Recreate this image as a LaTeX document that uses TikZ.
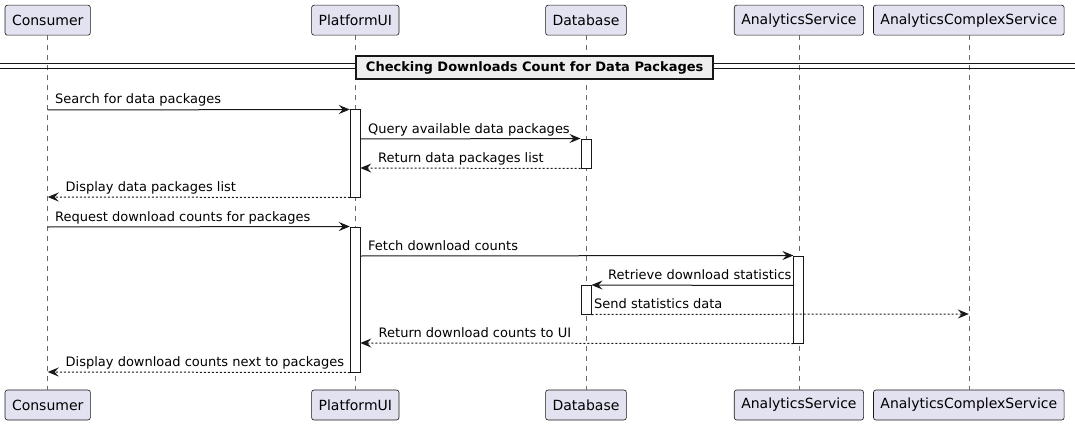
\documentclass[tikz,border=0pt]{standalone}
\usepackage{fontspec}
\setmainfont{DejaVu Sans}
\usetikzlibrary{arrows.meta}
\definecolor{partfill}{HTML}{E2E2F0}
\definecolor{ink}{HTML}{181818}
\definecolor{divfill}{HTML}{EEEEEE}
\tikzset{
  part/.style={draw=ink, line width=0.6pt, fill=partfill, rounded corners=2.5pt,
    minimum height=30pt, inner xsep=7pt, inner ysep=0pt,
    font=\fontsize{14}{16}\selectfont, text=black},
  life/.style={draw=ink!65, line width=0.6pt, dash pattern=on 5pt off 5pt},
  actbox/.style={draw=ink, line width=1pt, fill=white, minimum width=10pt, inner sep=0pt},
  msg/.style={draw=ink, line width=1pt, -{Stealth[length=11pt,width=9pt,inset=4pt]}},
  ret/.style={msg, dash pattern=on 2pt off 2pt},
  lbl/.style={anchor=base west, inner sep=0pt, font=\fontsize{13}{15}\selectfont, text=black},
  divbox/.style={draw=ink, line width=2pt, fill=divfill, minimum width=357pt, minimum height=23pt,
    inner sep=0pt, font=\fontsize{13}{15}\selectfont\bfseries}
}
\begin{document}
\begin{tikzpicture}[x=1pt,y=-1pt]
\useasboundingbox (0,0) rectangle (1075,425);
% participants
\node[part] (c1) at (47.7,20.2) {Consumer};
\node[part] (p1) at (355.3,20.2) {PlatformUI};
\node[part] (d1) at (586,20.2) {Database};
\node[part] (a1) at (798.9,20.2) {AnalyticsService};
\node[part] (x1) at (968.8,20.2) {AnalyticsComplexService};
\node[part] (c2) at (47.7,405) {Consumer};
\node[part] (p2) at (355.3,405) {PlatformUI};
\node[part] (d2) at (586,405) {Database};
\node[part] (a2) at (798.9,405) {AnalyticsService};
\node[part] (x2) at (968.8,405) {AnalyticsComplexService};
% lifelines
\foreach \n in {c,p,d,a,x} \draw[life] (\n1.south) -- (\n2.north);
% divider
\coordinate (dl) at (0,64);
\coordinate (dr) at (1075,64);
\coordinate (dl2) at (0,68.5);
\coordinate (dr2) at (1075,68.5);
\draw[ink, line width=1pt] (dl) -- (dr);
\draw[ink, line width=1pt] (dl2) -- (dr2);
\node[divbox] (div) at (534.7,67.9) {Checking Downloads Count for Data Packages};
% activations
\node[actbox, minimum height=87pt] (actP1) at (355.3,153.5) {};
\node[actbox, minimum height=29pt] (actD1) at (586,153.5) {};
\node[actbox, minimum height=145pt] (actP2) at (355.3,299.5) {};
\node[actbox, minimum height=87pt] (actA) at (798.9,299.5) {};
\node[actbox, minimum height=28.5pt] (actD2) at (586,299.75) {};
% message endpoints on lifelines
\coordinate (m1s) at (47.7,110);
\coordinate (m4e) at (47.7,197);
\coordinate (m5s) at (47.7,227);
\coordinate (m10e) at (47.7,372);
\coordinate (m2s) at (360.3,139);
\coordinate (m3e) at (360.3,168);
\coordinate (m6s) at (360.3,256);
\coordinate (m7s) at (793.9,285.5);
\coordinate (m8e) at (968.8,314);
\coordinate (m9e) at (360.3,343);
% messages
\draw[msg] (m1s) -- (actP1.north west);
\node[lbl] at (55,104) {Search for data packages};
\draw[msg] (m2s) -- (actD1.north west);
\node[lbl] at (368,133) {Query available data packages};
\draw[ret] (actD1.south west) -- (m3e);
\node[lbl] at (378,162) {Return data packages list};
\draw[ret] (actP1.south west) -- (m4e);
\node[lbl] at (65.5,191) {Display data packages list};
\draw[msg] (m5s) -- (actP2.north west);
\node[lbl] at (55,221) {Request download counts for packages};
\draw[msg] (m6s) -- (actA.north west);
\node[lbl] at (368,250) {Fetch download counts};
\draw[msg] (m7s) -- (actD2.north east);
\node[lbl] at (608,279.5) {Retrieve download statistics};
\draw[ret] (actD2.south east) -- (m8e);
\node[lbl] at (594,308) {Send statistics data};
\draw[ret] (actA.south west) -- (m9e);
\node[lbl] at (378.5,337) {Return download counts to UI};
\draw[ret] (actP2.south west) -- (m10e);
\node[lbl] at (65.5,366) {Display download counts next to packages};
\end{tikzpicture}
\end{document}
